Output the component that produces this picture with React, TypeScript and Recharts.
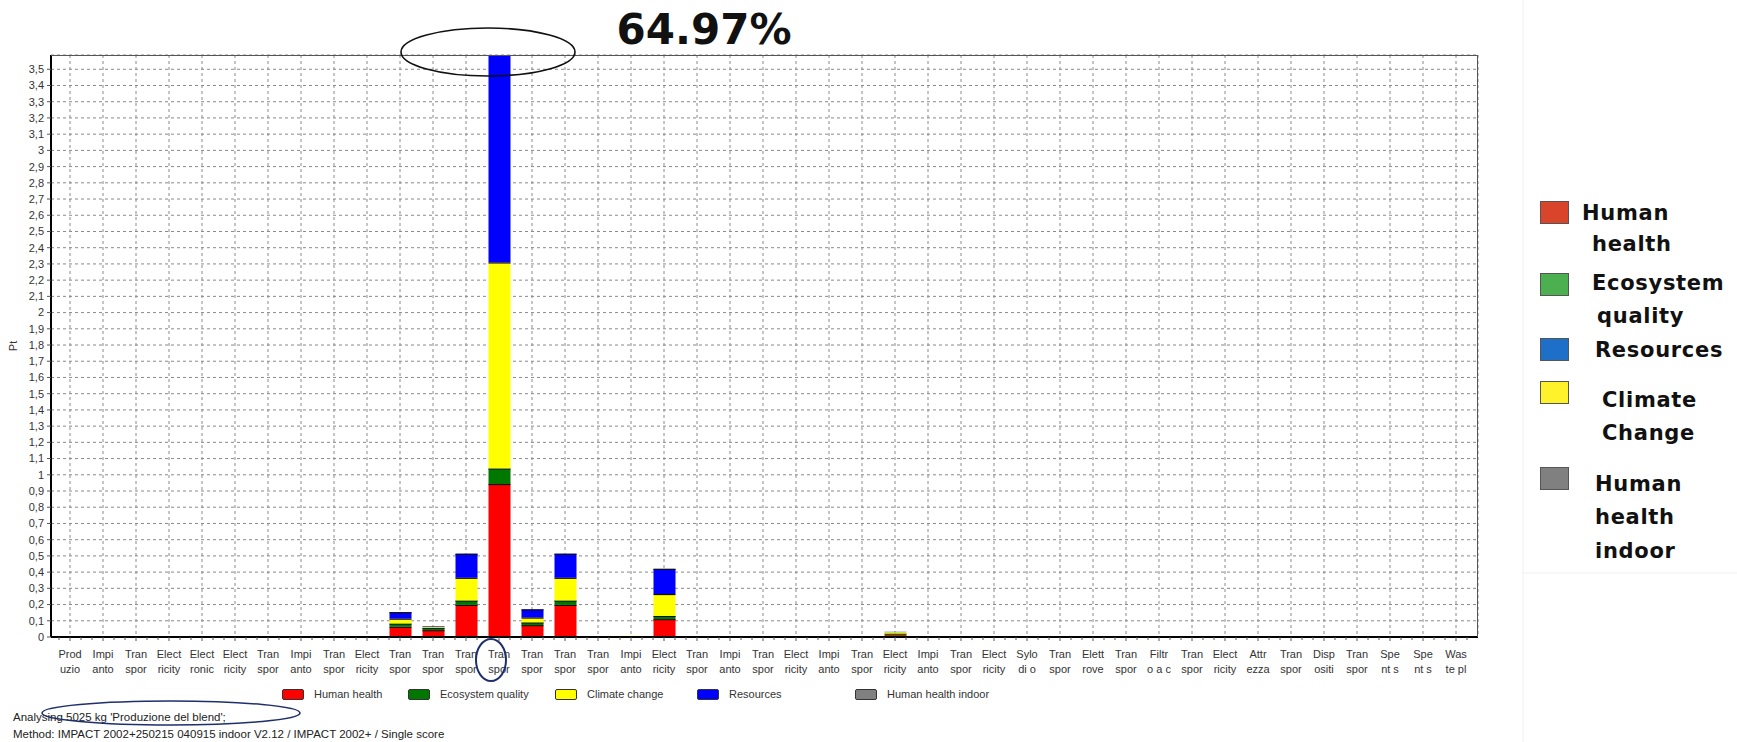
import { Bar, BarChart, CartesianGrid, XAxis, YAxis } from 'recharts';

// process labels, split on two lines as in the contribution view
const labelTop = ['Prod', 'Impi', 'Tran', 'Elect', 'Elect', 'Elect', 'Tran', 'Impi', 'Tran', 'Elect', 'Tran', 'Tran', 'Tran', 'Tran', 'Tran', 'Tran', 'Tran', 'Impi', 'Elect', 'Tran', 'Impi', 'Tran', 'Elect', 'Impi', 'Tran', 'Elect', 'Impi', 'Tran', 'Elect', 'Sylo', 'Tran', 'Elett', 'Tran', 'Filtr', 'Tran', 'Elect', 'Attr', 'Tran', 'Disp', 'Tran', 'Spe', 'Spe', 'Was'];
const labelBottom = ['uzio', 'anto', 'spor', 'ricity', 'ronic', 'ricity', 'spor', 'anto', 'spor', 'ricity', 'spor', 'spor', 'spor', 'spor', 'spor', 'spor', 'spor', 'anto', 'ricity', 'spor', 'anto', 'spor', 'ricity', 'anto', 'spor', 'ricity', 'anto', 'spor', 'ricity', 'di o', 'spor', 'rove', 'spor', 'o a c', 'spor', 'ricity', 'ezza', 'spor', 'ositi', 'spor', 'nt s', 'nt s', 'te pl'];

// single score per damage category (Pt)
const humanHealth = [0, 0, 0, 0, 0, 0, 0, 0, 0, 0, 0.063, 0.042, 0.198, 0.943, 0.073, 0.198, 0, 0, 0.11, 0, 0, 0, 0, 0, 0, 0.012, 0, 0, 0, 0, 0, 0, 0, 0, 0, 0, 0, 0, 0, 0, 0, 0, 0];
const ecosystemQuality = [0, 0, 0, 0, 0, 0.004, 0, 0, 0, 0, 0.02, 0.015, 0.027, 0.096, 0.017, 0.027, 0, 0.003, 0.02, 0, 0, 0, 0, 0, 0, 0.01, 0, 0, 0, 0, 0, 0, 0, 0, 0, 0, 0, 0, 0, 0, 0, 0, 0];
const climateChange = [0, 0, 0, 0, 0, 0.002, 0, 0, 0, 0, 0.03, 0.006, 0.14, 1.27, 0.03, 0.14, 0, 0.004, 0.135, 0, 0, 0, 0, 0, 0, 0.008, 0, 0, 0.003, 0, 0, 0, 0, 0, 0, 0, 0, 0, 0, 0, 0, 0, 0];
const resources = [0, 0, 0, 0, 0, 0, 0, 0, 0, 0, 0.04, 0.004, 0.148, 1.33, 0.05, 0.148, 0, 0, 0.155, 0, 0, 0, 0, 0, 0, 0.002, 0, 0, 0, 0, 0, 0, 0, 0, 0, 0, 0, 0, 0, 0, 0, 0, 0];
const humanHealthIndoor = [0, 0, 0, 0, 0, 0, 0, 0, 0, 0, 0, 0, 0, 0, 0, 0, 0, 0, 0, 0, 0, 0, 0, 0, 0, 0, 0, 0, 0, 0, 0, 0, 0, 0, 0, 0, 0, 0, 0, 0, 0, 0, 0];

const yTicks = [0, 0.1, 0.2, 0.3, 0.4, 0.5, 0.6, 0.7, 0.8, 0.9, 1, 1.1, 1.2, 1.3, 1.4, 1.5, 1.6, 1.7, 1.8, 1.9, 2, 2.1, 2.2, 2.3, 2.4, 2.5, 2.6, 2.7, 2.8, 2.9, 3, 3.1, 3.2, 3.3, 3.4, 3.5];
const Y_MAX = 3.588;

const series = [
    { key: 'hh', name: 'Human health', color: '#ff0000', values: humanHealth },
    { key: 'eq', name: 'Ecosystem quality', color: '#007800', values: ecosystemQuality },
    { key: 'cc', name: 'Climate change', color: '#ffff00', values: climateChange },
    { key: 'res', name: 'Resources', color: '#0000ff', values: resources },
    { key: 'hhi', name: 'Human health indoor', color: '#808080', values: humanHealthIndoor },
];

// side legend (presentation colours)
const sideLegend = [
    { lines: ['Human', 'health'], color: '#d9452b', top: 201, textTops: [213, 244], indent: [0, 10] },
    { lines: ['Ecosystem', 'quality'], color: '#4caf50', top: 273, textTops: [283, 316], indent: [10, 15] },
    { lines: ['Resources'], color: '#1e6fc8', top: 338, textTops: [350], indent: [13] },
    { lines: ['Climate', 'Change'], color: '#fff22a', top: 381, textTops: [400, 433], indent: [20, 20] },
    { lines: ['Human', 'health', 'indoor'], color: '#808080', top: 467, textTops: [484, 517, 551], indent: [13, 13, 13] },
];

const data = labelTop.map((t, i) => {
    const row: { [k: string]: string | number } = { id: i, top: t, bottom: labelBottom[i] };
    series.forEach((s) => {
        row[s.key] = s.values[i];
    });
    return row;
});

const PLOT = { left: 51, top: 55, right: 1478, bottom: 637 };
const FONT = '"Liberation Sans", Arial, sans-serif';

function Segment(props: any) {
    const { x, y, width, height, fill } = props;
    if (!height || height <= 0) return null;
    return (
        <g>
            <rect x={x} y={y} width={width} height={height} fill={fill} />
            {height > 2 && <line x1={x} x2={x + width} y1={y + 0.5} y2={y + 0.5} stroke='#111' strokeWidth={1.2} />}
        </g>
    );
}

function ProcessTick(props: any) {
    const { x, y, payload } = props;
    const i = payload.index;
    return (
        <g>
            {[-11, 11].map((d) => (
                <line key={d} x1={x + d} x2={x + d} y1={y - 6} y2={y - 3} stroke='#555' />
            ))}
            <text x={x} y={y} textAnchor='middle' fontSize={11} fill='#333' fontFamily={FONT}>
                <tspan x={x} dy={15}>{labelTop[i]}</tspan>
                <tspan x={x} dy={15}>{labelBottom[i]}</tspan>
            </text>
        </g>
    );
}

export default function App() {
    return (
        <div style={{ position: 'relative', width: 1737, height: 742, background: '#fff', fontFamily: FONT, overflow: 'hidden' }}>
            <style>{'body{margin:0}'}</style>

            <div style={{ position: 'absolute', left: 0, top: 0, width: 820, textAlign: 'center', paddingLeft: 588, boxSizing: 'border-box', fontFamily: '"DejaVu Sans", sans-serif', fontWeight: 'bold', fontSize: 42, lineHeight: '60px', color: '#111' }}>
                64.97%
            </div>

            <BarChart width={1490} height={680} data={data} margin={{ top: PLOT.top, right: 1490 - PLOT.right, left: 0, bottom: 3 }} barSize={22} style={{ position: 'absolute', left: 0, top: 0 }}>
                <CartesianGrid stroke='#8a8a8a' strokeDasharray='3 3' />
                <XAxis
                    dataKey='id'
                    type='category'
                    interval={0}
                    height={40}
                    padding={{ left: 2.5, right: 5.5 }}
                    axisLine={{ stroke: '#000', strokeWidth: 2 }}
                    tickLine={{ stroke: '#555' }}
                    tickSize={4}
                    tickMargin={2}
                    tick={<ProcessTick />}
                />
                <YAxis
                    width={51}
                    domain={[0, Y_MAX]}
                    ticks={yTicks}
                    allowDataOverflow
                    interval={0}
                    axisLine={{ stroke: '#000', strokeWidth: 2 }}
                    tickLine={{ stroke: '#555' }}
                    tickSize={4}
                    tickMargin={3}
                    tick={{ fontSize: 11, fill: '#333', fontFamily: FONT }}
                    tickFormatter={(v: number) => String(Math.round(v * 10) / 10).replace('.', ',')}
                />
                {series.map((s) => (
                    <Bar key={s.key} dataKey={s.key} name={s.name} stackId='score' fill={s.color} shape={<Segment />} isAnimationActive={false} />
                ))}
            </BarChart>

            {/* top and right frame of the plot area */}
            <div style={{ position: 'absolute', left: PLOT.left, top: PLOT.top, width: PLOT.right - PLOT.left, height: PLOT.bottom - PLOT.top, borderTop: '1px solid #555', borderRight: '1px solid #555', boxSizing: 'border-box', pointerEvents: 'none' }} />

            <div style={{ position: 'absolute', left: 13, top: 346, transform: 'translate(-50%, -50%) rotate(-90deg)', fontSize: 11, color: '#333' }}>Pt</div>

            {/* bottom legend */}
            {series.map((s, i) => {
                const boxX = [282, 408, 555, 697, 855][i];
                return (
                    <div key={s.key} style={{ position: 'absolute', left: boxX, top: 688, display: 'flex', alignItems: 'center', fontSize: 11, color: '#333', whiteSpace: 'nowrap' }}>
                        <span style={{ display: 'inline-block', width: 20, height: 9, background: s.color, border: '1px solid #333', borderRadius: 2, marginRight: 10 }} />
                        {s.name}
                    </div>
                );
            })}

            <div style={{ position: 'absolute', left: 13, top: 709, fontSize: 11.5, color: '#222', lineHeight: '16.5px', whiteSpace: 'nowrap' }}>
                <div>Analysing 5025 kg 'Produzione del blend';</div>
                <div>Method: IMPACT 2002+250215 040915 indoor V2.12 / IMPACT 2002+ / Single score</div>
            </div>

            {/* annotation rings */}
            <svg width={1737} height={742} style={{ position: 'absolute', left: 0, top: 0, pointerEvents: 'none' }}>
                <ellipse cx={488} cy={52} rx={87} ry={24} fill='none' stroke='#111' strokeWidth={1.6} />
                <ellipse cx={491} cy={660} rx={15} ry={21} fill='none' stroke='#1f2f6b' strokeWidth={2} />
                <ellipse cx={171} cy={713} rx={129} ry={12} fill='none' stroke='#1f2f6b' strokeWidth={1.6} />
                <line x1={1523} x2={1523} y1={0} y2={742} stroke='#f0f0f0' />
                <line x1={1523} x2={1737} y1={573} y2={573} stroke='#f0f0f0' />
            </svg>

            {/* side legend */}
            {sideLegend.map((item) => (
                <div key={item.lines.join(' ')}>
                    <div style={{ position: 'absolute', left: 1540, top: item.top, width: 29, height: 23, background: item.color, border: '1px solid #555', boxSizing: 'border-box' }} />
                    {item.lines.map((ln, j) => (
                        <div key={ln + j} style={{ position: 'absolute', left: 1582 + item.indent[j], top: item.textTops[j] - 14, fontFamily: '"DejaVu Sans", sans-serif', fontWeight: 'bold', fontSize: 21, letterSpacing: 0.7, lineHeight: '28px', color: '#111', whiteSpace: 'nowrap' }}>
                            {ln}
                        </div>
                    ))}
                </div>
            ))}
        </div>
    );
}
